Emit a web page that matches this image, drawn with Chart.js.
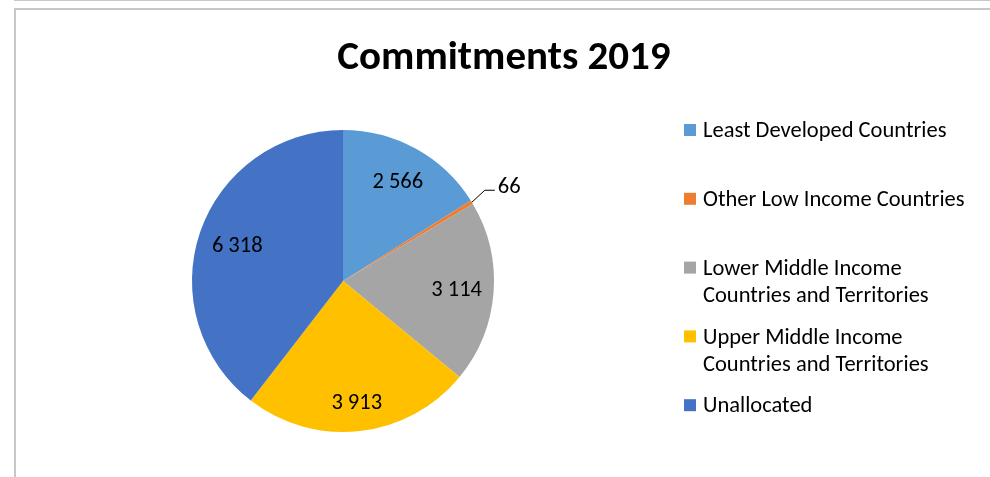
<!DOCTYPE html>
<html>
<head>
<meta charset="utf-8">
<script src="https://cdn.jsdelivr.net/npm/chart.js@4"></script>
<style>
  html, body { margin: 0; padding: 0; background: #fff; }
  #wrap { position: relative; width: 990px; height: 477px; overflow: hidden; }
  #topline { position: absolute; left: 14px; top: 0; width: 976px; height: 0; border-top: 1px solid #c8c8c8; }
  #frame { position: absolute; left: 14px; top: 8px; width: 976px; height: 469px; border-top: 2px solid #c8c8c8; border-left: 2px solid #c8c8c8; box-sizing: border-box; }
  canvas { position: absolute; left: 0; top: 0; }
</style>
</head>
<body>
<div id="wrap">
  <div id="topline"></div>
  <div id="frame"></div>
  <canvas id="c" width="990" height="477"></canvas>
</div>
<script>
// ---- data ----
const chartTitle = "Commitments 2019";
const categories = [
  ["Least Developed Countries"],
  ["Other Low Income Countries"],
  ["Lower Middle Income", "Countries and Territories"],
  ["Upper Middle Income", "Countries and Territories"],
  ["Unallocated"]
];
const values = [2566, 66, 3114, 3913, 6318];
const valueLabels = ["2 566", "66", "3 114", "3 913", "6 318"];
const colors = ["#5B9BD5", "#ED7D31", "#A5A5A5", "#FFC000", "#4472C4"];

// ---- styling ----
const FONT = "Carlito, Lato, 'Liberation Sans', sans-serif";
const labelRadius = [0.75, null, 0.755, 0.81, 0.74]; // null => outside with leader line

const drawPlugin = {
  id: 'customDraw',
  afterDraw(chart) {
    const ctx = chart.ctx;
    ctx.save();
    // title
    ctx.fillStyle = '#000';
    ctx.font = "bold 41px " + FONT;
    ctx.textAlign = 'center';
    ctx.textBaseline = 'alphabetic';
    ctx.fillText(chartTitle, 504, 69);

    // data labels
    const meta = chart.getDatasetMeta(0);
    ctx.font = "22.5px " + FONT;
    meta.data.forEach((arc, i) => {
      const p = arc.getProps(['x', 'y', 'startAngle', 'endAngle', 'outerRadius'], true);
      const mid = (p.startAngle + p.endAngle) / 2;
      const f = labelRadius[i];
      if (f !== null) {
        const r = p.outerRadius * f;
        ctx.textAlign = 'center';
        ctx.textBaseline = 'middle';
        ctx.fillText(valueLabels[i], p.x + Math.cos(mid) * r, p.y + Math.sin(mid) * r + 1);
      } else {
        const ex = p.x + Math.cos(mid) * p.outerRadius;
        const ey = p.y + Math.sin(mid) * p.outerRadius;
        const kx = ex + 13, ky = ey - 12;
        ctx.strokeStyle = '#000';
        ctx.lineWidth = 1;
        ctx.beginPath();
        ctx.moveTo(ex, ey);
        ctx.lineTo(kx, ky);
        ctx.lineTo(kx + 10, ky);
        ctx.stroke();
        ctx.textAlign = 'left';
        ctx.textBaseline = 'middle';
        ctx.fillText(valueLabels[i], kx + 13, ky - 3);
      }
    });

    // legend
    ctx.font = "22.5px " + FONT;
    ctx.textAlign = 'left';
    ctx.textBaseline = 'middle';
    categories.forEach((lines, i) => {
      const y0 = 130 + i * 68.8;
      ctx.fillStyle = colors[i];
      ctx.fillRect(684, y0 - 6, 12, 12);
      ctx.fillStyle = '#000';
      lines.forEach((ln, j) => ctx.fillText(ln, 703, y0 + 1.5 + j * 27));
    });
    ctx.restore();
  }
};

new Chart(document.getElementById('c'), {
  type: 'pie',
  data: {
    labels: categories,
    datasets: [{
      data: values,
      backgroundColor: colors,
      borderWidth: 0
    }]
  },
  options: {
    responsive: false,
    animation: false,
    layout: { padding: { left: 192, top: 130, right: 496, bottom: 45 } },
    plugins: {
      legend: { display: false },
      title: { display: false },
      tooltip: { enabled: false }
    }
  },
  plugins: [drawPlugin]
});
</script>
</body>
</html>
